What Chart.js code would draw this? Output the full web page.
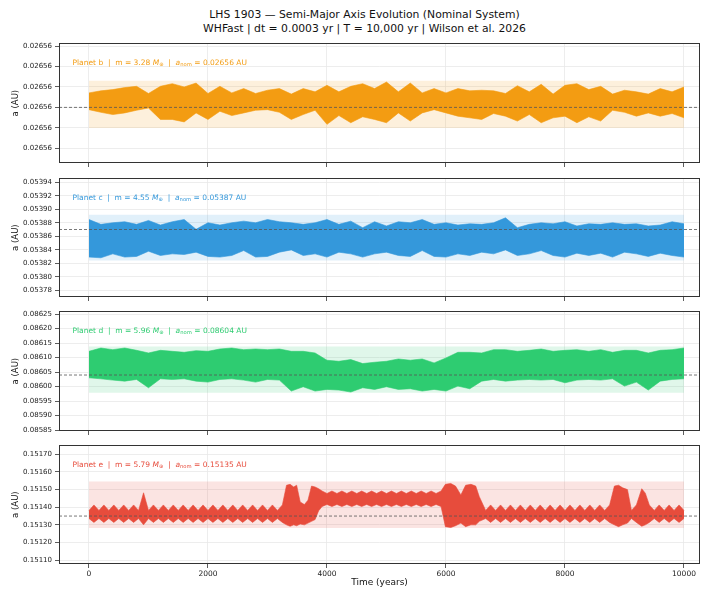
<!DOCTYPE html>
<html>
<head>
<meta charset="utf-8">
<script src="https://cdn.jsdelivr.net/npm/chart.js@4.4.1/dist/chart.umd.min.js"></script>
<style>
  html, body { margin: 0; padding: 0; background: #fff; }
  #wrap { position: relative; width: 701px; height: 589px; overflow: hidden; font-family: 'DejaVu Sans', sans-serif; }
  #title { position: absolute; left: 14px; top: 8px; width: 701px; text-align: center; font-size: 10.8px; line-height: 14px; color: #111; }
  canvas { position: absolute; left: 0; }
</style>
</head>
<body>
<div id="wrap">
  <div id="title">LHS 1903 — Semi-Major Axis Evolution (Nominal System)<br>WHFast | dt = 0.0003 yr | T = 10,000 yr | Wilson et al. 2026</div>
  <canvas id="cb" width="701" height="135" style="top:36px"></canvas>
  <canvas id="cc" width="701" height="134" style="top:171px"></canvas>
  <canvas id="cd" width="701" height="135" style="top:304px"></canvas>
  <canvas id="ce" width="701" height="151" style="top:438px"></canvas>
</div>
<script>
// time grid (years) for planets b, c, d envelopes
var years = [0,200,400,600,800,1000,1200,1400,1600,1800,2000,2200,2400,2600,2800,3000,3200,3400,3600,3800,4000,
  4200,4400,4600,4800,5000,5200,5400,5600,5800,6000,6200,6400,6600,6800,7000,7200,7400,7600,7800,8000,
  8200,8400,8600,8800,9000,9200,9400,9600,9800,10000];

// planet b: upper / lower envelope of a (AU)
var bHigh = [0.02656071,0.02656081,0.02656087,0.02656097,0.02656103,0.02656068,0.02656103,0.02656116,0.02656100,0.02656119,
  0.02656068,0.02656103,0.02656071,0.02656092,0.02656068,0.02656084,0.02656092,0.02656065,0.02656092,0.02656076,
  0.02656108,0.02656076,0.02656103,0.02656116,0.02656092,0.02656124,0.02656076,0.02656119,0.02656071,0.02656092,
  0.02656071,0.02656092,0.02656081,0.02656084,0.02656081,0.02656068,0.02656106,0.02656076,0.02656113,0.02656065,
  0.02656108,0.02656116,0.02656087,0.02656103,0.02656065,0.02656084,0.02656076,0.02656065,0.02656092,0.02656076,0.02656100];
var bLow = [0.02655989,0.02655976,0.02655965,0.02655973,0.02655986,0.02655997,0.02655941,0.02655941,0.02655929,0.02655973,
  0.02655941,0.02655981,0.02655960,0.02655973,0.02655986,0.02655989,0.02655976,0.02655941,0.02655965,0.02655986,
  0.02655917,0.02655960,0.02655925,0.02655954,0.02655941,0.02655925,0.02655973,0.02655933,0.02655973,0.02655989,
  0.02655973,0.02655957,0.02655949,0.02655941,0.02655970,0.02655957,0.02655933,0.02655965,0.02655925,0.02655949,
  0.02655957,0.02655925,0.02655954,0.02655933,0.02655986,0.02655976,0.02655957,0.02655973,0.02655957,0.02655970,0.02655949];

// planet c
var cHigh = [0.0538848,0.0538776,0.0538800,0.0538815,0.0538776,0.0538834,0.0538766,0.0538815,0.0538848,0.0538703,
  0.0538800,0.0538766,0.0538800,0.0538824,0.0538800,0.0538848,0.0538815,0.0538800,0.0538776,0.0538800,
  0.0538848,0.0538776,0.0538824,0.0538727,0.0538815,0.0538752,0.0538815,0.0538800,0.0538848,0.0538776,
  0.0538800,0.0538766,0.0538785,0.0538776,0.0538800,0.0538873,0.0538727,0.0538776,0.0538800,0.0538785,
  0.0538815,0.0538752,0.0538785,0.0538776,0.0538800,0.0538776,0.0538785,0.0538752,0.0538766,0.0538815,0.0538785];
var cLow = [0.0538291,0.0538281,0.0538339,0.0538291,0.0538301,0.0538378,0.0538315,0.0538339,0.0538330,0.0538364,
  0.0538301,0.0538291,0.0538315,0.0538388,0.0538291,0.0538301,0.0538364,0.0538398,0.0538315,0.0538339,
  0.0538291,0.0538364,0.0538339,0.0538291,0.0538339,0.0538364,0.0538315,0.0538301,0.0538388,0.0538301,
  0.0538291,0.0538339,0.0538315,0.0538364,0.0538339,0.0538398,0.0538315,0.0538339,0.0538388,0.0538315,
  0.0538291,0.0538349,0.0538315,0.0538349,0.0538291,0.0538364,0.0538339,0.0538301,0.0538349,0.0538315,0.0538291];

// planet d
var dHigh = [0.0861217,0.0861331,0.0861274,0.0861331,0.0861251,0.0861160,0.0861251,0.0861217,0.0861183,0.0861240,
  0.0861217,0.0861297,0.0861331,0.0861274,0.0861297,0.0861274,0.0861297,0.0861217,0.0861217,0.0861160,
  0.0860909,0.0860874,0.0860932,0.0860795,0.0860840,0.0860874,0.0860954,0.0860909,0.0860954,0.0860817,
  0.0860989,0.0861183,0.0861183,0.0861160,0.0861274,0.0861274,0.0861217,0.0861251,0.0861297,0.0861217,
  0.0861251,0.0861274,0.0861217,0.0861274,0.0861183,0.0861251,0.0861251,0.0861160,0.0861251,0.0861274,0.0861331];
var dLow = [0.0860304,0.0860269,0.0860224,0.0860189,0.0860247,0.0859961,0.0860269,0.0860247,0.0860269,0.0860189,
  0.0860155,0.0860247,0.0860269,0.0860224,0.0860155,0.0860247,0.0860224,0.0859847,0.0859995,0.0859847,
  0.0859904,0.0859881,0.0859813,0.0859961,0.0859904,0.0859995,0.0859904,0.0859927,0.0859847,0.0859904,
  0.0859847,0.0860018,0.0859927,0.0860189,0.0860247,0.0860189,0.0860224,0.0860247,0.0860224,0.0860247,
  0.0860132,0.0860224,0.0860247,0.0860224,0.0860269,0.0860018,0.0860155,0.0859881,0.0860189,0.0860247,0.0860269];

// planet e has its own time points (resonant episodes)
var eYears = [0,83,167,250,333,417,500,583,667,750,833,917,1000,1083,1167,1250,1333,1417,1500,1583,1667,1750,1833,1917,
  2000,2083,2167,2250,2333,2417,2500,2583,2667,2750,2833,2917,3000,3083,3167,3250,
  3320,3380,3440,3490,3550,3620,3680,3740,3800,3860,
  3917,4000,4083,4167,4250,4333,4417,4500,4583,4667,4750,4833,4917,5000,5083,5167,5250,5333,5417,5500,5583,5667,5750,5833,5917,
  5990,6080,6160,6250,6330,6420,6500,6560,
  6667,6750,6833,6917,7000,7083,7167,7250,7333,7417,7500,7583,7667,7750,7833,7917,8000,8083,8167,8250,8333,8417,8500,8583,8667,8750,
  8830,8900,8970,9050,9117,9200,9290,9350,9417,9500,9583,9667,9750,9833,9917,10000];
var eHigh = [0.151382,0.151413,0.151382,0.151413,0.151382,0.151413,0.151382,0.151413,0.151382,0.151413,0.151382,0.151482,
  0.151382,0.151413,0.151382,0.151413,0.151382,0.151413,0.151382,0.151413,0.151382,0.151413,0.151382,0.151413,
  0.151382,0.151413,0.151382,0.151413,0.151382,0.151413,0.151382,0.151413,0.151382,0.151413,0.151382,0.151413,0.151382,0.151413,0.151382,0.151413,
  0.151525,0.151530,0.151515,0.151525,0.151430,0.151415,0.151440,0.151520,0.151515,0.151505,
  0.151492,0.151478,0.151492,0.151478,0.151492,0.151478,0.151492,0.151478,0.151492,0.151478,0.151492,0.151478,0.151492,
  0.151478,0.151492,0.151478,0.151492,0.151478,0.151492,0.151478,0.151492,0.151478,0.151492,0.151478,0.151492,
  0.151530,0.151535,0.151520,0.151470,0.151525,0.151530,0.151520,0.151460,
  0.151382,0.151413,0.151382,0.151413,0.151382,0.151413,0.151382,0.151413,0.151382,0.151413,0.151382,0.151413,0.151382,
  0.151413,0.151382,0.151413,0.151382,0.151413,0.151382,0.151413,0.151382,0.151413,0.151382,0.151413,0.151382,0.151413,
  0.151520,0.151525,0.151510,0.151500,0.151382,0.151413,0.151505,0.151480,0.151413,0.151382,0.151413,0.151382,0.151413,0.151382,0.151413,0.151382];
var eLow = [0.151336,0.151314,0.151336,0.151314,0.151336,0.151314,0.151336,0.151314,0.151336,0.151314,0.151336,0.151300,
  0.151336,0.151314,0.151336,0.151314,0.151336,0.151314,0.151336,0.151314,0.151336,0.151314,0.151336,0.151314,
  0.151336,0.151314,0.151336,0.151314,0.151336,0.151314,0.151336,0.151314,0.151336,0.151314,0.151336,0.151314,0.151336,0.151314,0.151336,0.151314,
  0.151300,0.151292,0.151300,0.151295,0.151305,0.151300,0.151310,0.151320,0.151330,0.151380,
  0.151404,0.151416,0.151404,0.151416,0.151404,0.151416,0.151404,0.151416,0.151404,0.151416,0.151404,0.151416,0.151404,
  0.151416,0.151404,0.151416,0.151404,0.151416,0.151404,0.151416,0.151404,0.151416,0.151404,0.151416,0.151404,
  0.151290,0.151285,0.151295,0.151310,0.151290,0.151300,0.151300,0.151320,
  0.151336,0.151314,0.151336,0.151314,0.151336,0.151314,0.151336,0.151314,0.151336,0.151314,0.151336,0.151314,0.151336,
  0.151314,0.151336,0.151314,0.151336,0.151314,0.151336,0.151314,0.151336,0.151314,0.151336,0.151314,0.151336,0.151314,
  0.151300,0.151290,0.151300,0.151310,0.151336,0.151314,0.151292,0.151300,0.151314,0.151336,0.151314,0.151336,0.151314,0.151336,0.151314,0.151336];

// per-planet reference values
var planetNames = ['b', 'c', 'd', 'e'];
var masses = ['3.28', '4.55', '5.96', '5.79'];
var aNominal = [0.02656, 0.05387, 0.08604, 0.15135];
var bandHigh = [0.0265613, 0.053892, 0.086138, 0.151546];
var bandLow = [0.02655899, 0.053824, 0.085979, 0.151282];
var yMin = [0.02655728, 0.053770, 0.085847, 0.151078];
var yMax = [0.02656314, 0.053946, 0.086260, 0.151752];
var yTicks = [
  [0.026558, 0.026559, 0.026560, 0.026561, 0.026562, 0.026563],
  [0.05378, 0.05380, 0.05382, 0.05384, 0.05386, 0.05388, 0.05390, 0.05392, 0.05394],
  [0.08585, 0.08590, 0.08595, 0.08600, 0.08605, 0.08610, 0.08615, 0.08620, 0.08625],
  [0.15110, 0.15120, 0.15130, 0.15140, 0.15150, 0.15160, 0.15170]
];
var xTicks = [0, 2000, 4000, 6000, 8000, 10000];
var colors = ['#f39c12', '#3498db', '#2ecc71', '#e74c3c'];
var bandColors = ['rgba(243,156,18,0.15)', 'rgba(52,152,219,0.15)', 'rgba(46,204,113,0.15)', 'rgba(231,76,60,0.15)'];

var FONT = "'DejaVu Sans', sans-serif";

function pts(xs, ys) {
  return xs.map(function(x, i) { return { x: x, y: ys[i] }; });
}

// frame round the plot area (all four spines)
var framePlugin = {
  id: 'frame',
  afterDraw: function(chart) {
    var a = chart.chartArea, ctx = chart.ctx;
    ctx.save();
    ctx.strokeStyle = '#333';
    ctx.lineWidth = 1;
    ctx.strokeRect(Math.round(a.left) + 0.5, Math.round(a.top) + 0.5, Math.round(a.right - a.left) - 1, Math.round(a.bottom - a.top) - 1);
    ctx.restore();
  }
};

// legend-like label in the upper left, with italic M and subscript 'nom'
var labelPlugin = {
  id: 'planetLabel',
  afterDraw: function(chart, args, opts) {
    var ctx = chart.ctx, a = chart.chartArea;
    var x = a.left + 13.5, y = a.top + 20;
    var fs = 7.5;
    var parts = [
      { t: 'Planet ' + opts.name + '  |  m = ' + opts.mass + ' ', f: fs + 'px ' + FONT, dy: 0 },
      { t: 'M', f: 'italic ' + fs + 'px ' + FONT, dy: 0 },
      { t: '\u2295', f: (fs * 0.7) + 'px ' + FONT, dy: 1.5 },
      { t: '  |  ', f: fs + 'px ' + FONT, dy: 0 },
      { t: 'a', f: 'italic ' + fs + 'px ' + FONT, dy: 0 },
      { t: 'nom', f: (fs * 0.7) + 'px ' + FONT, dy: 1.5 },
      { t: ' = ' + opts.anom + ' AU', f: fs + 'px ' + FONT, dy: 0 }
    ];
    ctx.save();
    ctx.fillStyle = opts.color;
    ctx.textBaseline = 'middle';
    ctx.textAlign = 'left';
    parts.forEach(function(p) {
      ctx.font = p.f;
      ctx.fillText(p.t, x, y + p.dy);
      x += ctx.measureText(p.t).width;
    });
    ctx.restore();
  }
};

function makePanel(id, i, xs, hi, lo, last) {
  var datasets = [
    { data: [{ x: -504, y: aNominal[i] }, { x: 10269, y: aNominal[i] }], borderColor: '#555', borderWidth: 0.8,
      borderDash: [3, 2], pointRadius: 0, fill: false, order: 0 },
    { data: pts(xs, hi), borderColor: colors[i], borderWidth: 0.6, backgroundColor: colors[i],
      pointRadius: 0, fill: '+1', order: 1 },
    { data: pts(xs, lo), borderColor: colors[i], borderWidth: 0.6, pointRadius: 0, fill: false, order: 1 },
    { data: [{ x: 0, y: bandHigh[i] }, { x: 10000, y: bandHigh[i] }], borderWidth: 0, borderColor: 'rgba(0,0,0,0)',
      backgroundColor: bandColors[i], pointRadius: 0, fill: '+1', order: 2 },
    { data: [{ x: 0, y: bandLow[i] }, { x: 10000, y: bandLow[i] }], borderWidth: 0, borderColor: 'rgba(0,0,0,0)',
      pointRadius: 0, fill: false, order: 2 }
  ];
  var xh = last ? 25 : 8;
  return new Chart(document.getElementById(id), {
    type: 'line',
    data: { datasets: datasets },
    options: {
      responsive: false,
      animation: false,
      devicePixelRatio: 1,
      layout: { padding: { top: 5, right: 1, left: 0, bottom: 0 } },
      plugins: {
        legend: { display: false },
        tooltip: { enabled: false },
        planetLabel: { name: planetNames[i], mass: masses[i], anom: aNominal[i].toFixed(5), color: colors[i] }
      },
      scales: {
        x: {
          type: 'linear', min: -504, max: 10269,
          afterBuildTicks: function(s) { s.ticks = xTicks.map(function(v) { return { value: v }; }); },
          afterFit: function(s) { s.height = xh; },
          grid: { color: '#e8e8e8', lineWidth: 0.8, tickColor: '#333', tickLength: 4, tickWidth: 0.8 },
          border: { display: false },
          ticks: { display: last, color: '#222', font: { family: FONT, size: 7.5 }, padding: 2, maxRotation: 0,
            callback: function(v) { return String(v); } },
          title: { display: last, text: 'Time (years)', color: '#111', font: { family: FONT, size: 9 },
            padding: { top: 0, bottom: 1 } }
        },
        y: {
          min: yMin[i], max: yMax[i],
          afterBuildTicks: function(s) { s.ticks = yTicks[i].map(function(v) { return { value: v }; }); },
          afterFit: function(s) { s.width = 59; },
          grid: { color: '#e8e8e8', lineWidth: 0.8, tickColor: '#333', tickLength: 4, tickWidth: 0.8 },
          border: { display: false },
          ticks: { color: '#222', font: { family: FONT, size: 7 }, padding: 3,
            callback: function(v) { return Number(v).toFixed(5); } },
          title: { display: true, text: 'a (AU)', color: '#111', font: { family: FONT, size: 8.5 },
            padding: { top: 11, bottom: 0 } }
        }
      }
    },
    plugins: [labelPlugin, framePlugin]
  });
}

makePanel('cb', 0, years, bHigh, bLow, false);
makePanel('cc', 1, years, cHigh, cLow, false);
makePanel('cd', 2, years, dHigh, dLow, false);
makePanel('ce', 3, eYears, eHigh, eLow, true);
</script>
</body>
</html>
